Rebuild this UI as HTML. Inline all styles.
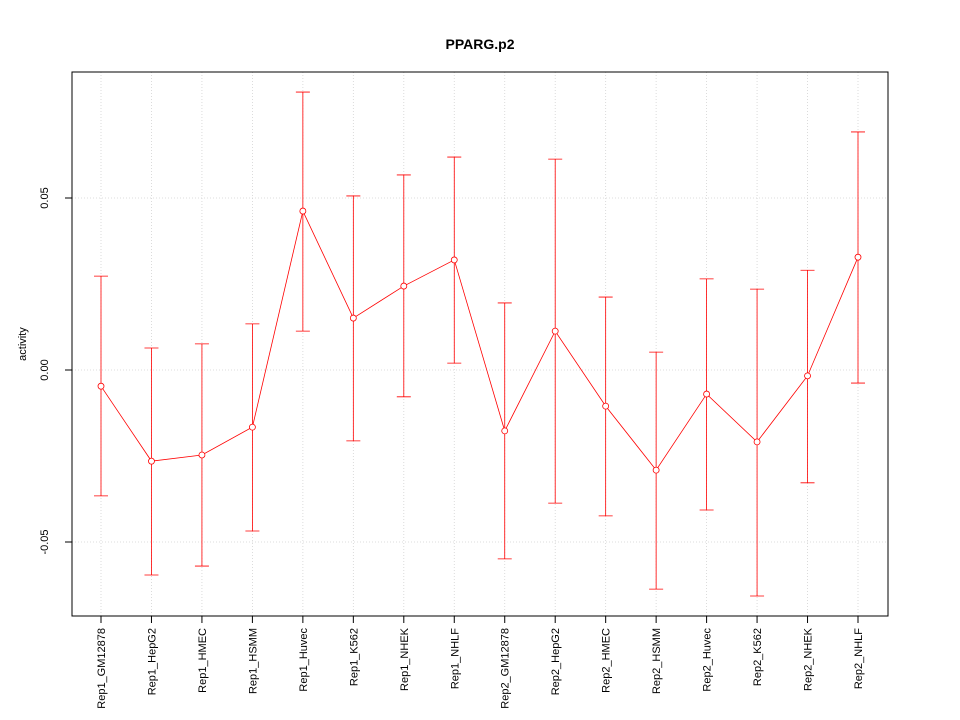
<!DOCTYPE html>
<html><head><meta charset="utf-8"><style>
body{margin:0;background:#fff;}
svg{display:block;font-family:"Liberation Sans",sans-serif;}
</style></head><body>
<svg id="chart" width="960" height="720">
<text x="480" y="49" text-anchor="middle" font-size="14" font-weight="bold">PPARG.p2</text>
<text transform="translate(26,344) rotate(-90)" text-anchor="middle" font-size="11">activity</text>
<g id="grid"></g><g id="yaxis"></g><g id="xaxis"></g><g id="series"></g>
<rect x="72" y="72" width="816" height="544" fill="none" stroke="#000"/>
</svg>
<script>
const categories=["Rep1_GM12878","Rep1_HepG2","Rep1_HMEC","Rep1_HSMM","Rep1_Huvec","Rep1_K562","Rep1_NHEK","Rep1_NHLF","Rep2_GM12878","Rep2_HepG2","Rep2_HMEC","Rep2_HSMM","Rep2_Huvec","Rep2_K562","Rep2_NHEK","Rep2_NHLF"];
const values=[-0.0047,-0.0265,-0.0247,-0.0166,0.0462,0.0151,0.0244,0.032,-0.0177,0.0113,-0.0105,-0.0291,-0.007,-0.0209,-0.0017,0.0328];
const upper=[0.0273,0.0064,0.0076,0.0134,0.0808,0.0506,0.0567,0.0619,0.0195,0.0613,0.0212,0.0052,0.0265,0.0235,0.029,0.0692];
const lower=[-0.0366,-0.0596,-0.057,-0.0468,0.0113,-0.0206,-0.0078,0.002,-0.0549,-0.0387,-0.0424,-0.0637,-0.0407,-0.0657,-0.0328,-0.0038];
const yTicks=[-0.05,0,0.05];
const yTickLabels=["-0.05","0.00","0.05"];
const NS="http://www.w3.org/2000/svg";
function X(i){return 101+i*(858-101)/(categories.length-1);}
function Y(v){return 370-v*3440;}
function mk(tag,attrs,parent){const e=document.createElementNS(NS,tag);for(const k in attrs)e.setAttribute(k,attrs[k]);parent.appendChild(e);return e;}
const grid=document.getElementById('grid'),ya=document.getElementById('yaxis'),xa=document.getElementById('xaxis'),se=document.getElementById('series');
categories.forEach((c,i)=>{
 const g=mk('line',{x1:X(i),x2:X(i),y1:72,y2:616,stroke:'#d3d3d3','stroke-dasharray':'1,2','stroke-width':0.8},grid);
 
 
 const t=mk('line',{x1:X(i),x2:X(i),y1:616,y2:623,stroke:'#000'},xa);
 
 
 const l=mk('text',{transform:`translate(${X(i)+4},628) rotate(-90)`,'text-anchor':'end','font-size':11},xa);
 l.textContent=c;
 
 
});
yTicks.forEach((v,i)=>{
 const g=mk('line',{x1:72,x2:888,y1:Y(v),y2:Y(v),stroke:'#d3d3d3','stroke-dasharray':'1,2','stroke-width':0.8},grid);
 
 
 const t=mk('line',{x1:65,x2:72,y1:Y(v),y2:Y(v),stroke:'#000'},ya);
 
 
 const l=mk('text',{transform:`translate(48,${Y(v)}) rotate(-90)`,'text-anchor':'middle','font-size':11},ya);
 l.textContent=yTickLabels[i];
 
 
});
categories.forEach((c,i)=>{
 const eb=mk('path',{d:`M${X(i)},${Y(upper[i])}V${Y(lower[i])}M${X(i)-7},${Y(upper[i])}H${X(i)+7}M${X(i)-7},${Y(lower[i])}H${X(i)+7}`,stroke:'red',fill:'none','stroke-width':0.8},se);
 
 
});
const line=mk('polyline',{points:values.map((v,i)=>X(i)+','+Y(v)).join(' '),fill:'none',stroke:'red','stroke-width':0.8},se);


values.forEach((v,i)=>{
 const p=mk('circle',{cx:X(i),cy:Y(v),r:3,fill:'#fff',stroke:'red','stroke-width':0.8},se);
 
 
});
</script>
</body></html>
